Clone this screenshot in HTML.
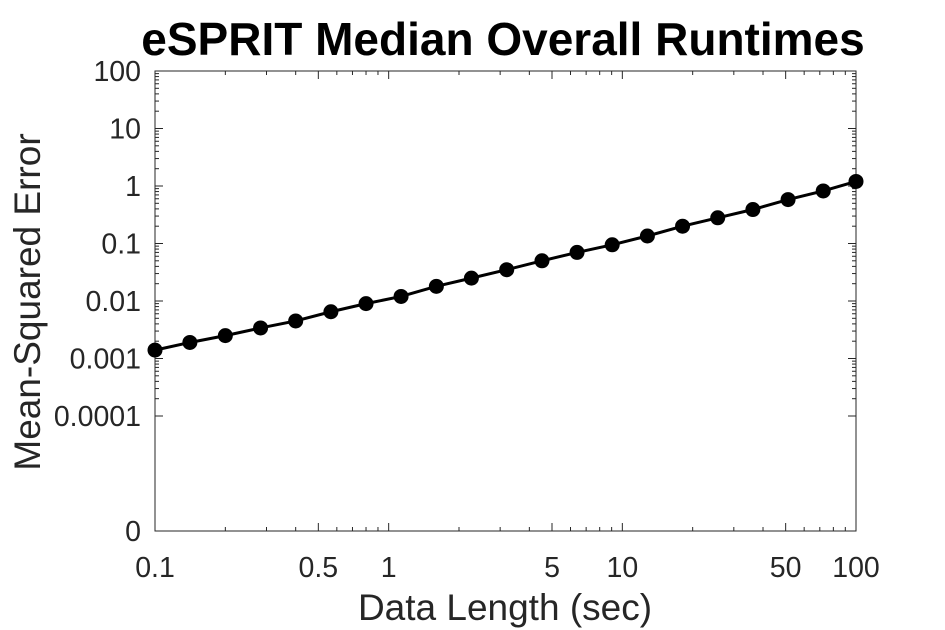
<!DOCTYPE html>
<html><head><meta charset="utf-8"><style>
body{margin:0;background:#fff;}
svg{display:block;font-family:"Liberation Sans",Arial,sans-serif;}
</style></head><body>
<svg id="chart" width="945" height="630">
<text x="503" y="55" text-anchor="middle" font-size="46" font-weight="bold" fill="#000">eSPRIT Median Overall Runtimes</text>
<text x="505" y="620" text-anchor="middle" font-size="37" fill="#262626">Data Length (sec)</text>
<text transform="translate(40,302) rotate(-90)" text-anchor="middle" font-size="37" fill="#262626">Mean-Squared Error</text>
<g id="axes"></g>
<g id="series"></g>
</svg>
<script>
const xValues=[0.1,0.141,0.2,0.283,0.4,0.566,0.8,1.13,1.6,2.26,3.2,4.53,6.4,9.05,12.8,18.1,25.6,36.2,51.2,72.4,100];
const yValues=[0.0014,0.0019,0.0025,0.0034,0.0045,0.0065,0.009,0.012,0.018,0.025,0.035,0.05,0.07,0.095,0.135,0.2,0.28,0.39,0.58,0.82,1.2];
const xTickValues=[0.1,0.5,1,5,10,50,100];
const xTickLabels=["0.1","0.5","1","5","10","50","100"];
const yTickValues=[1e-6,1e-4,1e-3,1e-2,1e-1,1,10,100];
const yTickLabels=["0","0.0001","0.001","0.01","0.1","1","10","100"];
const L=155,R=856,T=71,B=531;
const X=v=>L+(Math.log10(v)+1)/3*(R-L);
const Y=v=>B-(Math.log10(v)+6)/8*(B-T);
const NS="http://www.w3.org/2000/svg";
const ax=document.getElementById('axes');
function mk(tag,attrs,parent){const e=document.createElementNS(NS,tag);for(const k in attrs)e.setAttribute(k,attrs[k]);parent.appendChild(e);return e;}
const box=mk('rect',{x:L,y:T,width:R-L,height:B-T,fill:'none',stroke:'#262626','stroke-width':1},ax);


for(let d=-1;d<2;d++)for(let m=1;m<10;m++){const v=m*Math.pow(10,d);const x=X(v);const len=(m==1||m==5)?8:4;
mk('line',{x1:x,y1:B,x2:x,y2:B-len,stroke:'#262626'},ax);mk('line',{x1:x,y1:T,x2:x,y2:T+len,stroke:'#262626'},ax);}
xTickValues.forEach((v,i)=>{const t=mk('text',{x:X(v),y:B+46,'text-anchor':'middle','font-size':28.5,fill:'#262626'},ax);t.textContent=xTickLabels[i];

});
for(let d=-4;d<2;d++)for(let m=1;m<10;m++){const v=m*Math.pow(10,d);const y=Y(v);const len=m==1?8:4;
mk('line',{x1:L,y1:y,x2:L+len,y2:y,stroke:'#262626'},ax);mk('line',{x1:R,y1:y,x2:R-len,y2:y,stroke:'#262626'},ax);}
yTickValues.forEach((v,i)=>{const y=Y(v);mk('line',{x1:L,y1:y,x2:L+8,y2:y,stroke:'#262626'},ax);mk('line',{x1:R,y1:y,x2:R-8,y2:y,stroke:'#262626'},ax);
const t=mk('text',{x:L-14,y:y+10,'text-anchor':'end','font-size':28.5,fill:'#262626'},ax);t.textContent=yTickLabels[i];

});
const sg=document.getElementById('series');
const line=mk('polyline',{points:xValues.map((v,i)=>X(v)+','+Y(yValues[i])).join(' '),fill:'none',stroke:'#000','stroke-width':3},sg);


xValues.forEach((v,i)=>{const c=mk('circle',{cx:X(v),cy:Y(yValues[i]),r:7.5,fill:'#000'},sg);

});
</script>
</body></html>
